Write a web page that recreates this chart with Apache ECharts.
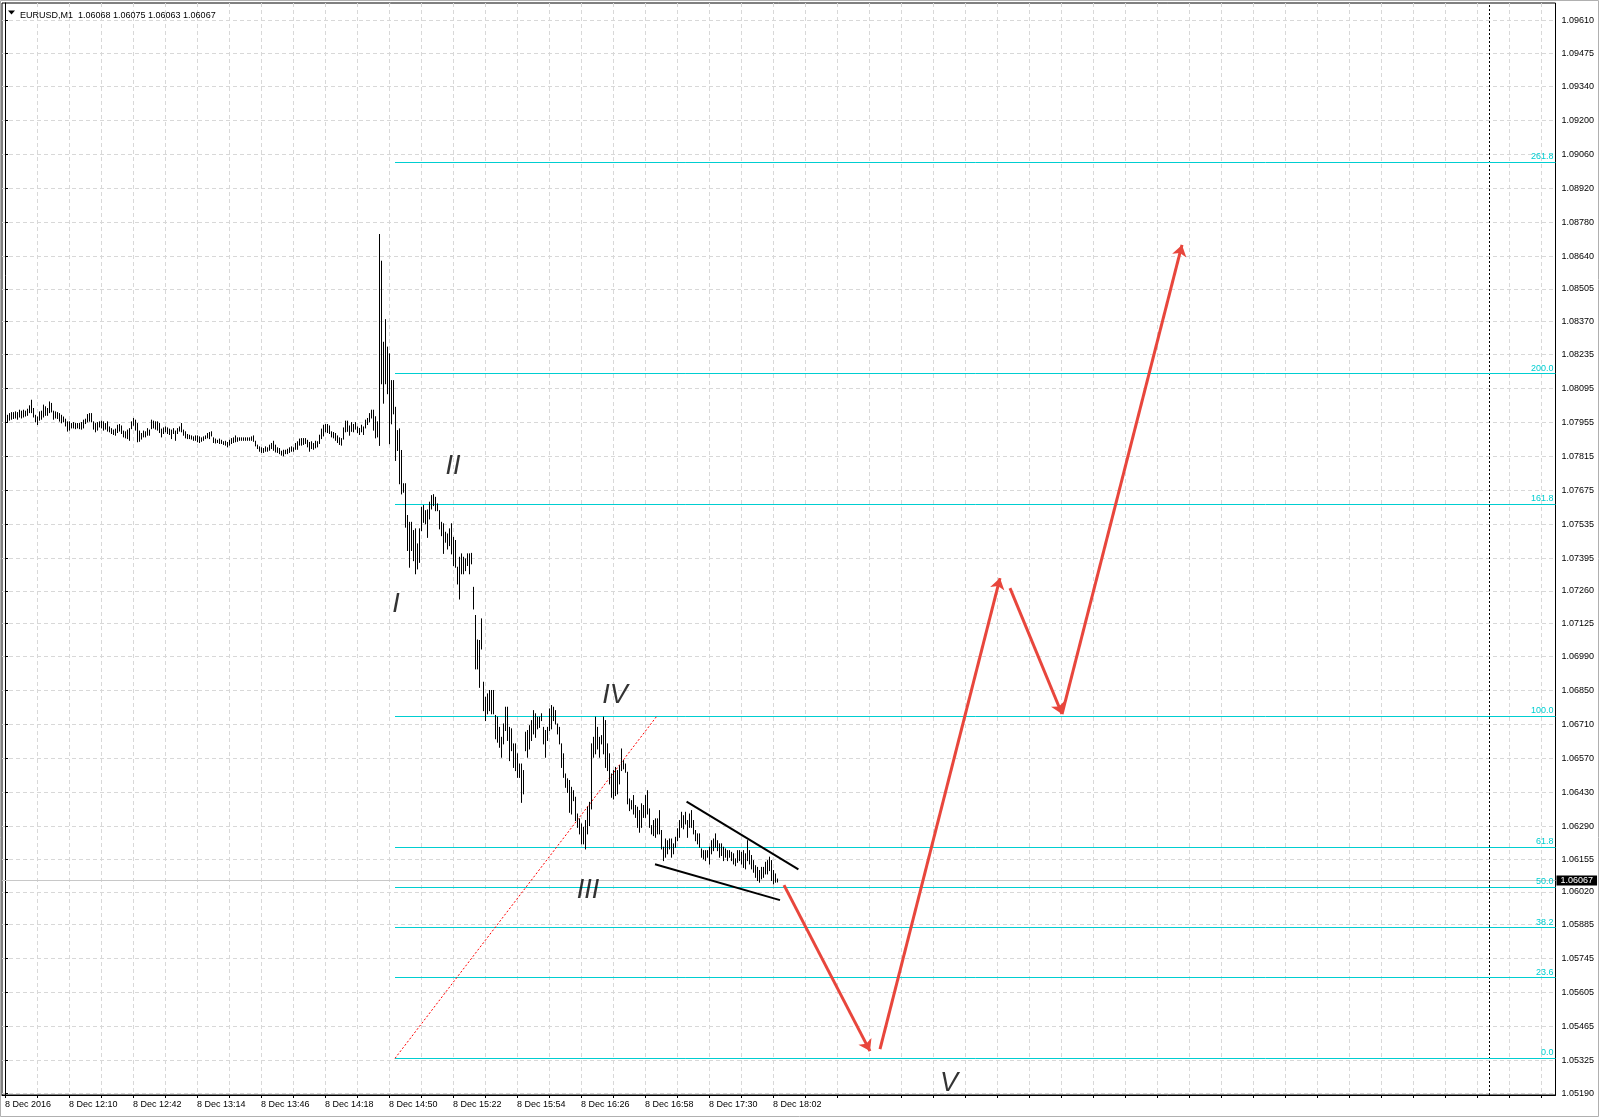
<!DOCTYPE html>
<html><head><meta charset="utf-8">
<script src="https://cdn.jsdelivr.net/npm/echarts@6/dist/echarts.min.js"></script>
<style>html,body{margin:0;padding:0;background:#fff;}#c{width:1600px;height:1118px;}</style>
</head><body><div id="c"></div>
<script>
// ---------------- data ----------------
const symbolInfo = 'EURUSD,M1  1.06068 1.06075 1.06063 1.06067';
const xTickLabels = ['8 Dec 2016','8 Dec 12:10','8 Dec 12:42','8 Dec 13:14','8 Dec 13:46','8 Dec 14:18','8 Dec 14:50','8 Dec 15:22','8 Dec 15:54','8 Dec 16:26','8 Dec 16:58','8 Dec 17:30','8 Dec 18:02'];
const yTickLabels = [1.09610,1.09475,1.09340,1.09200,1.09060,1.08920,1.08780,1.08640,1.08505,1.08370,1.08235,1.08095,1.07955,1.07815,1.07675,1.07535,1.07395,1.07260,1.07125,1.06990,1.06850,1.06710,1.06570,1.06430,1.06290,1.06155,1.06020,1.05885,1.05745,1.05605,1.05465,1.05325,1.05190];
// one-minute bars, starting 8 Dec 11:38
const highs = [
1.07975,1.07986,1.07993,1.07997,1.07997,1.08000,1.07997,1.08007,1.08003,1.08007,
1.08003,1.08011,1.08025,1.08048,1.08014,1.07986,1.07979,1.08000,1.08003,1.08028,
1.08021,1.08014,1.08041,1.08035,1.08003,1.08000,1.07997,1.07993,1.07986,1.07979,
1.07970,1.07959,1.07959,1.07952,1.07956,1.07952,1.07952,1.07952,1.07956,1.07966,
1.07970,1.07989,1.07993,1.07993,1.07959,1.07952,1.07956,1.07959,1.07962,1.07959,
1.07952,1.07959,1.07938,1.07931,1.07925,1.07929,1.07945,1.07948,1.07942,1.07921,
1.07918,1.07925,1.07931,1.07959,1.07973,1.07966,1.07952,1.07921,1.07911,1.07921,
1.07918,1.07931,1.07925,1.07966,1.07962,1.07959,1.07959,1.07952,1.07929,1.07934,
1.07938,1.07934,1.07929,1.07925,1.07931,1.07921,1.07931,1.07938,1.07952,1.07925,
1.07918,1.07907,1.07904,1.07901,1.07897,1.07901,1.07901,1.07897,1.07893,1.07897,
1.07901,1.07911,1.07915,1.07918,1.07893,1.07888,1.07883,1.07888,1.07883,1.07877,
1.07879,1.07874,1.07883,1.07890,1.07893,1.07901,1.07893,1.07893,1.07893,1.07893,
1.07893,1.07893,1.07893,1.07897,1.07901,1.07879,1.07863,1.07856,1.07852,1.07849,
1.07856,1.07852,1.07863,1.07870,1.07879,1.07863,1.07852,1.07849,1.07838,1.07842,
1.07842,1.07846,1.07852,1.07856,1.07852,1.07870,1.07877,1.07888,1.07890,1.07890,
1.07890,1.07883,1.07874,1.07877,1.07870,1.07879,1.07877,1.07904,1.07929,1.07945,
1.07948,1.07948,1.07942,1.07918,1.07915,1.07911,1.07901,1.07893,1.07890,1.07934,
1.07962,1.07962,1.07942,1.07956,1.07948,1.07956,1.07938,1.07932,1.07945,1.07938,
1.07966,1.07973,1.07993,1.08007,1.08007,1.07980,1.07959,1.08731,1.08621,1.08287,
1.08380,1.08267,1.08239,1.08129,1.08129,1.08019,1.07923,1.07930,1.07841,1.07704,
1.07704,1.07573,1.07545,1.07545,1.07511,1.07518,1.07456,1.07518,1.07607,1.07614,
1.07593,1.07596,1.07628,1.07655,1.07659,1.07648,1.07621,1.07593,1.07545,1.07539,
1.07504,1.07497,1.07518,1.07539,1.07483,1.07470,1.07360,1.07401,1.07415,1.07401,
1.07394,1.07415,1.07415,1.07417,1.07277,1.07161,1.07060,1.07058,1.07147,1.06886,
1.06824,1.06838,1.06852,1.06852,1.06852,1.06749,1.06742,1.06700,1.06659,1.06714,
1.06783,1.06783,1.06700,1.06694,1.06632,1.06632,1.06591,1.06549,1.06549,1.06522,
1.06680,1.06687,1.06707,1.06728,1.06769,1.06756,1.06742,1.06742,1.06756,1.06700,
1.06687,1.06700,1.06776,1.06790,1.06783,1.06769,1.06714,1.06700,1.06632,1.06591,
1.06508,1.06488,1.06481,1.06453,1.06439,1.06412,1.06343,1.06323,1.06302,1.06288,
1.06316,1.06371,1.06391,1.06632,1.06659,1.06742,1.06700,1.06659,1.06666,1.06742,
1.06728,1.06632,1.06591,1.06508,1.06522,1.06535,1.06522,1.06542,1.06611,1.06563,
1.06549,1.06515,1.06405,1.06398,1.06419,1.06378,1.06371,1.06357,1.06385,1.06378,
1.06419,1.06439,1.06364,1.06295,1.06316,1.06323,1.06323,1.06357,1.06275,1.06206,
1.06240,1.06233,1.06240,1.06240,1.06220,1.06247,1.06282,1.06316,1.06350,1.06336,
1.06350,1.06316,1.06343,1.06357,1.06316,1.06275,1.06261,1.06261,1.06199,1.06192,
1.06192,1.06192,1.06206,1.06233,1.06240,1.06261,1.06233,1.06220,1.06220,1.06206,
1.06199,1.06192,1.06192,1.06185,1.06179,1.06158,1.06192,1.06192,1.06185,1.06192,
1.06179,1.06233,1.06192,1.06172,1.06151,1.06130,1.06123,1.06110,1.06123,1.06123,
1.06144,1.06151,1.06165,1.06151,1.06110,1.06096,1.06075];
const lows = [
1.07934,1.07959,1.07966,1.07970,1.07973,1.07975,1.07970,1.07979,1.07975,1.07979,
1.07983,1.07986,1.07997,1.07997,1.07979,1.07959,1.07948,1.07966,1.07970,1.07979,
1.07986,1.07986,1.07997,1.08000,1.07970,1.07975,1.07973,1.07962,1.07955,1.07959,
1.07942,1.07921,1.07925,1.07934,1.07934,1.07931,1.07934,1.07931,1.07929,1.07934,
1.07952,1.07959,1.07962,1.07959,1.07929,1.07918,1.07925,1.07938,1.07934,1.07925,
1.07929,1.07921,1.07918,1.07911,1.07907,1.07904,1.07915,1.07921,1.07911,1.07897,
1.07893,1.07890,1.07883,1.07931,1.07945,1.07925,1.07877,1.07879,1.07888,1.07897,
1.07897,1.07904,1.07904,1.07931,1.07934,1.07929,1.07925,1.07915,1.07897,1.07911,
1.07918,1.07911,1.07907,1.07890,1.07911,1.07883,1.07911,1.07921,1.07918,1.07904,
1.07893,1.07890,1.07890,1.07888,1.07883,1.07883,1.07877,1.07874,1.07879,1.07883,
1.07890,1.07893,1.07890,1.07901,1.07874,1.07872,1.07874,1.07870,1.07870,1.07866,
1.07863,1.07856,1.07863,1.07870,1.07874,1.07877,1.07879,1.07883,1.07883,1.07883,
1.07883,1.07883,1.07883,1.07883,1.07879,1.07860,1.07849,1.07838,1.07833,1.07833,
1.07838,1.07838,1.07842,1.07849,1.07842,1.07835,1.07833,1.07828,1.07822,1.07819,
1.07828,1.07828,1.07833,1.07838,1.07838,1.07846,1.07846,1.07863,1.07863,1.07866,
1.07870,1.07856,1.07838,1.07849,1.07846,1.07852,1.07856,1.07870,1.07890,1.07901,
1.07918,1.07915,1.07911,1.07897,1.07893,1.07883,1.07874,1.07866,1.07863,1.07888,
1.07918,1.07920,1.07904,1.07920,1.07918,1.07929,1.07915,1.07907,1.07918,1.07907,
1.07934,1.07948,1.07959,1.07975,1.07925,1.07893,1.07897,1.07862,1.08116,1.08036,
1.08116,1.08075,1.07869,1.07951,1.07992,1.07800,1.07841,1.07704,1.07662,1.07669,
1.07525,1.07429,1.07360,1.07429,1.07387,1.07333,1.07353,1.07380,1.07511,1.07545,
1.07539,1.07483,1.07559,1.07600,1.07614,1.07593,1.07593,1.07518,1.07490,1.07417,
1.07463,1.07435,1.07449,1.07415,1.07367,1.07360,1.07291,1.07229,1.07333,1.07333,
1.07346,1.07367,1.07333,1.07374,1.07188,1.06941,1.06941,1.06865,1.07023,1.06769,
1.06728,1.06756,1.06769,1.06756,1.06756,1.06653,1.06639,1.06618,1.06577,1.06632,
1.06687,1.06646,1.06563,1.06604,1.06535,1.06522,1.06494,1.06494,1.06391,1.06426,
1.06604,1.06577,1.06611,1.06646,1.06673,1.06659,1.06694,1.06700,1.06728,1.06632,
1.06577,1.06646,1.06687,1.06694,1.06728,1.06714,1.06673,1.06632,1.06535,1.06494,
1.06453,1.06432,1.06350,1.06343,1.06398,1.06316,1.06288,1.06261,1.06220,1.06220,
1.06199,1.06261,1.06295,1.06364,1.06577,1.06591,1.06611,1.06577,1.06632,1.06591,
1.06535,1.06522,1.06467,1.06412,1.06405,1.06419,1.06426,1.06467,1.06522,1.06529,
1.06515,1.06385,1.06357,1.06364,1.06343,1.06329,1.06288,1.06268,1.06288,1.06329,
1.06329,1.06343,1.06288,1.06261,1.06254,1.06247,1.06261,1.06261,1.06199,1.06151,
1.06165,1.06179,1.06199,1.06165,1.06179,1.06206,1.06233,1.06247,1.06288,1.06282,
1.06302,1.06247,1.06288,1.06288,1.06261,1.06233,1.06220,1.06206,1.06165,1.06158,
1.06151,1.06165,1.06137,1.06179,1.06192,1.06206,1.06192,1.06165,1.06172,1.06151,
1.06165,1.06151,1.06165,1.06151,1.06137,1.06130,1.06144,1.06151,1.06137,1.06123,
1.06117,1.06151,1.06137,1.06117,1.06103,1.06082,1.06069,1.06062,1.06076,1.06082,
1.06096,1.06096,1.06110,1.06069,1.06055,1.06062,1.06063];
const lastPrice = 1.06067;
const fibLevels = [0.0, 23.6, 38.2, 50.0, 61.8, 100.0, 161.8, 200.0, 261.8];
const fibStart = [195, 1.05334];
const fibEnd = [326, 1.06745];
const waveNames = ['I','II','III','IV','V'];
const waveX = [195.5, 224, 291.5, 305, 472];
const waveY = [1.07206, 1.07775, 1.06024, 1.06831, 1.05232];
const arrowFrom = [[389.5,1.06048],[437.5,1.05372],[502.5,1.07272],[528.5,1.06753]];
const arrowTo   = [[432.5,1.05364],[497.5,1.07313],[528.5,1.06753],[588.5,1.08686]];
const trendFrom = [[340.8,1.06392],[325,1.06134]];
const trendTo   = [[396.7,1.06113],[387.5,1.05986]];
const shiftLineX = 742;

// ---------------- chart ----------------
const X_MIN = -1.5, X_MAX = 775.25;
const labelTicks = xTickLabels.map((_, k) => k * 32);
const gridTicks = []; for (let v = 0; v <= X_MAX; v += 16) gridTicks.push(v);
const FONT = 'Liberation Sans';
const CYAN = '#00CED1';

const chart = echarts.init(document.getElementById('c'), null, {renderer: 'canvas'});
const barData = highs.map((h, i) => [i, h, lows[i]]);

chart.setOption({
  animation: false,
  backgroundColor: '#fff',
  title: {text: symbolInfo, left: 15, top: 6, textStyle: {fontSize: 9, fontWeight: 'normal', color: '#000', fontFamily: FONT}},
  graphic: [
    {type: 'polygon', shape: {points: [[8, 10.5], [15, 10.5], [11.5, 14.5]]}, style: {fill: '#000'}},
    {type: 'rect', shape: {x: 0.5, y: 0.5, width: 1598, height: 1116}, style: {fill: 'none', stroke: '#b0b0b0', lineWidth: 1}, z: -1}
  ],
  grid: {left: 2, top: 3, right: 44.5, bottom: 23, show: true, borderColor: '#000', borderWidth: 1, backgroundColor: '#fff'},
  xAxis: {
    type: 'value', min: X_MIN, max: X_MAX,
    axisLine: {show: true, lineStyle: {color: '#000'}},
    axisTick: {show: true, length: 3, customValues: gridTicks, lineStyle: {color: '#000'}},
    axisLabel: {customValues: labelTicks, formatter: v => xTickLabels[Math.round(v / 32)] || '', align: 'left',
      margin: 5, fontSize: 9, color: '#000', fontFamily: FONT},
    splitLine: {show: true, lineStyle: {color: '#d8d8d8', type: [4, 3], width: 1}}
  },
  yAxis: {
    type: 'value', position: 'right', min: 1.05183, max: 1.09683, scale: true,
    axisLine: {show: true, lineStyle: {color: '#000'}},
    axisTick: {show: true, length: 3, customValues: yTickLabels, lineStyle: {color: '#000'}},
    axisLabel: {customValues: yTickLabels, formatter: v => v.toFixed(5), margin: 6, fontSize: 9, color: '#000', fontFamily: FONT},
    splitLine: {show: true, lineStyle: {color: '#d8d8d8', type: [4, 3], width: 1}}
  },
  series: [
    { // current price line + shift line (under bars)
      type: 'line', data: [], silent: true, z: 1,
      markLine: {
        silent: true, symbol: 'none', animation: false,
        data: [
          [{coord: [X_MIN, lastPrice], lineStyle: {color: '#c8c8c8', width: 1, type: 'solid'},
            label: {show: true, position: 'end', distance: 1, formatter: () => lastPrice.toFixed(5), color: '#fff',
              backgroundColor: '#000', padding: [1, 4, 0, 4], fontSize: 9, fontFamily: FONT}},
           {coord: [X_MAX, lastPrice]}],
          [{coord: [shiftLineX, 1.05183], lineStyle: {color: '#000', width: 1, type: [2, 2]}, label: {show: false}},
           {coord: [shiftLineX, 1.09683]}]
        ]
      }
    },
    { // fibonacci levels
      type: 'line', data: [], silent: true, z: 2,
      markLine: {
        silent: true, symbol: 'none', animation: false,
        lineStyle: {color: CYAN, width: 1, type: 'solid'},
        data: fibLevels.map(l => {
          const p = fibStart[1] + (fibEnd[1] - fibStart[1]) * l / 100;
          return [{coord: [fibStart[0], p],
                   label: {show: true, position: 'insideEndTop', formatter: l.toFixed(1), color: CYAN,
                     fontSize: 9, fontFamily: FONT, distance: [2, 1]}},
                  {coord: [X_MAX, p]}];
        })
      }
    },
    { // OHLC bars (high-low)
      type: 'custom', z: 5, data: barData, encode: {x: 0, y: [1, 2]}, clip: true,
      renderItem: function (params, api) {
        const i = api.value(0);
        const a = api.coord([i, api.value(1)]);
        const b = api.coord([i, api.value(2)]);
        const px = Math.floor(a[0]) + 0.5;
        return {type: 'line', shape: {x1: px, y1: a[1], x2: px, y2: b[1] + 1}, style: {stroke: '#000', lineWidth: 1}};
      }
    },
    { // fib trend (red dotted) + triangle lines
      type: 'line', data: [], silent: true, z: 6,
      markLine: {
        silent: true, symbol: 'none', animation: false, label: {show: false},
        data: [
          [{coord: fibStart, lineStyle: {color: '#ff0000', width: 1, type: [2, 2]}}, {coord: fibEnd}]
        ].concat(trendFrom.map((f, k) => [{coord: f, lineStyle: {color: '#000', width: 2, type: 'solid'}}, {coord: trendTo[k]}]))
      }
    },
    { // red forecast arrows
      type: 'line', data: [], silent: true, z: 7,
      markLine: {
        silent: true, symbol: ['none', 'arrow'], symbolSize: 11, animation: false, label: {show: false},
        lineStyle: {color: '#e8463c', width: 3, type: 'solid'},
        data: arrowFrom.map((f, k) => [{coord: f}, {coord: arrowTo[k]}])
      }
    },
    { // wave labels
      type: 'scatter', z: 8, silent: true, symbolSize: 1, itemStyle: {color: 'rgba(0,0,0,0)'},
      data: waveNames.map((n, k) => [waveX[k], waveY[k], n]),
      label: {show: true, position: 'inside', formatter: p => p.data[2], color: '#000', fontSize: 27,
        fontStyle: 'italic', fontFamily: FONT}
    }
  ]
});
</script></body></html>
